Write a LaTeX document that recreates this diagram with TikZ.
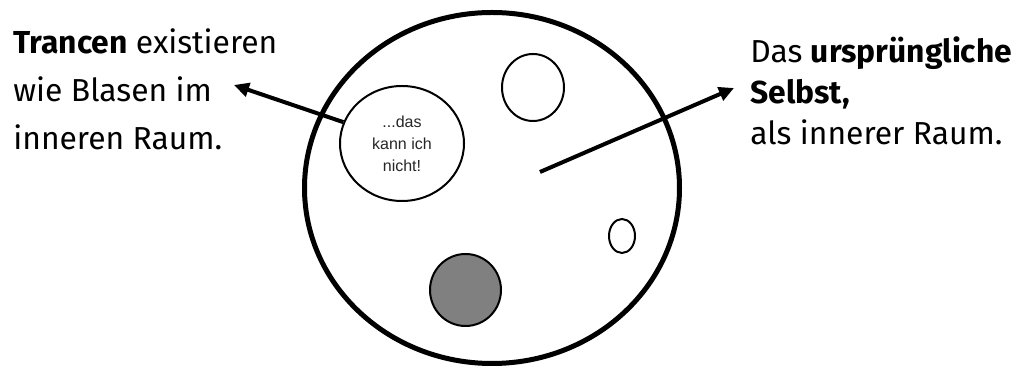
\documentclass[tikz,border=0pt]{standalone}
\usepackage{fontspec}
\setmainfont{Fira Sans}
\newfontfamily\bubblefont{Liberation Sans}
\usetikzlibrary{arrows.meta,shapes.geometric}
\tikzset{
  textblock/.style={anchor=base west, inner sep=0pt, align=left},
  selbstkreis/.style={draw, ellipse, line width=2.5pt, inner sep=0pt},
  blase/.style={draw, ellipse, line width=1pt, inner sep=0pt},
  zeiger/.style={-{Triangle[length=7.5pt,width=7pt]}, line width=2pt}
}
\begin{document}
\begin{tikzpicture}[x=0.5pt,y=-0.5pt]
  \useasboundingbox (0,0) rectangle (1030,367);
  \node[textblock, font={\fontsize{15.9}{24}\selectfont}] (trancen) at (13,150)
    {\textbf{Trancen} existieren\\wie Blasen im\\inneren Raum.};
  \node[textblock, font={\fontsize{15.9}{20.5}\selectfont}] (selbsttext) at (750,145)
    {Das \textbf{ursprüngliche}\\\textbf{Selbst,}\\als innerer Raum.};
  \node[selbstkreis, minimum width=187.5pt, minimum height=175.5pt] (selbst) at (492,188) {};
  \node[blase, minimum width=62pt, minimum height=57.5pt, align=center,
        font={\bubblefont\fontsize{8}{11}\selectfont}, text=black!85] (trance) at (402,143.5)
    {...das\\kann ich\\nicht!};
  \node[blase, minimum width=31pt, minimum height=33.5pt] (blaseoben) at (533,87.5) {};
  \node[blase, minimum width=13pt, minimum height=17pt] (blaseklein) at (622,236) {};
  \node[blase, fill=gray, minimum width=35.5pt, minimum height=36pt] (blasegrau) at (465.5,290) {};
  \coordinate (spitzel) at (234,85);
  \coordinate (mitte) at (540,172);
  \coordinate (spitzer) at (734,88);
  \draw[zeiger] (trance.160) -- (spitzel);
  \draw[zeiger] (mitte) -- (spitzer);
\end{tikzpicture}
\end{document}
